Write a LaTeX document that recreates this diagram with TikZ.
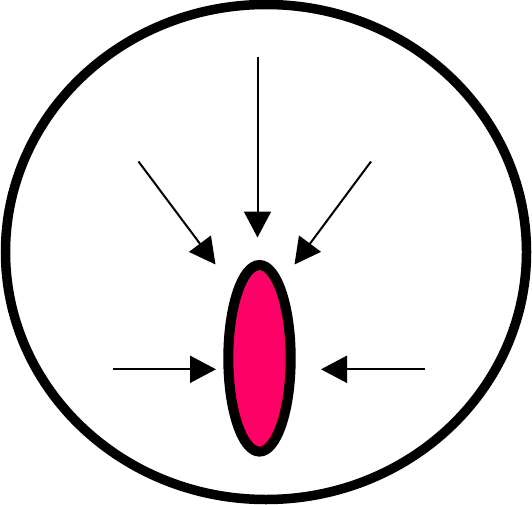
\documentclass[tikz,border=0pt]{standalone}
\usetikzlibrary{arrows.meta}
\definecolor{cellpink}{RGB}{255,0,102}

\begin{document}
\begin{tikzpicture}[x=1pt, y=-1pt,
  push/.style={-{Triangle[length=26pt, width=27pt]}, line width=2pt}]

\useasboundingbox (0, 0) rectangle (532, 505);

% outer boundary
\draw[line width=9.5pt] (266, 252) ellipse [x radius=260.5, y radius=247.5];

% cell
\draw[line width=10pt, fill=cellpink] (259.5, 358.3) ellipse [x radius=31.2, y radius=93.3];

% start points
\coordinate (top) at (257.5, 57);
\coordinate (upleft) at (138.5, 161.5);
\coordinate (upright) at (371, 161.5);
\coordinate (left) at (112.5, 369.3);
\coordinate (right) at (424.5, 369.3);

% tips
\coordinate (topend) at (257.5, 237.5);
\coordinate (upleftend) at (215.5, 264.5);
\coordinate (uprightend) at (294.5, 264.5);
\coordinate (leftend) at (216, 369.3);
\coordinate (rightend) at (321, 369.3);

% arrows
\draw[push] (top) -- (topend);
\draw[push] (upleft) -- (upleftend);
\draw[push] (upright) -- (uprightend);
\draw[push] (left) -- (leftend);
\draw[push] (right) -- (rightend);

\end{tikzpicture}
\end{document}
